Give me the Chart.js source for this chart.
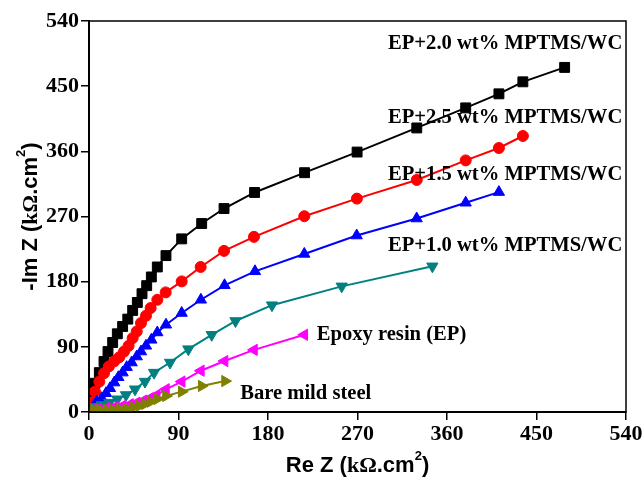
<!DOCTYPE html>
<html>
<head>
<meta charset="utf-8">
<script src="https://cdn.jsdelivr.net/npm/chart.js@4.4.1/dist/chart.umd.min.js"></script>
<style>
  html, body { margin: 0; padding: 0; background: #fff; }
  #wrap { width: 644px; height: 480px; }
</style>
</head>
<body>
<div id="wrap"><canvas id="chart" width="644" height="480"></canvas></div>
<script>
// Re Z / -Im Z in kOhm.cm2
const ep20Re = [2.7, 6, 10.4, 15.1, 19.1, 23.8, 28.5, 33.8, 39, 43.9, 48.6, 53.3, 58, 62.7, 68.7, 77.4, 93.2, 113.3, 135.8, 166.5, 216.8, 269.6, 329.6, 378.8, 412.2, 436.3, 478.3];
const ep20Im = [28.1, 39.7, 54.4, 69.7, 83.5, 96, 108, 118.1, 128.3, 140.3, 151.3, 163.4, 174.5, 186.5, 200.3, 216, 239.1, 260.3, 281, 303.2, 330.5, 359, 392.3, 420, 439.4, 456, 475.9];

const ep25Re = [2.7, 6, 10.4, 15.1, 20, 25.4, 30.5, 35.2, 39.8, 43.9, 48, 52.3, 57.3, 62, 68.7, 77.1, 93.2, 112.3, 135.8, 165.9, 216.5, 269.4, 329.6, 378.8, 412.2, 436.3];
const ep25Im = [12.9, 28.1, 42, 53.6, 63, 70, 75.7, 83.5, 91.4, 102, 111.2, 122.8, 132.9, 143.6, 155, 165.2, 180.4, 200.3, 222.5, 241.9, 270.4, 294.7, 320.5, 347.5, 364.6, 381.2];

const ep15Re = [4.3, 7.7, 12.8, 17.1, 21.1, 25.4, 29.5, 33.8, 37.9, 42.9, 48, 52.3, 57.3, 62.7, 68.7, 77.4, 93.2, 112.5, 136.3, 166.9, 216.5, 269.2, 329.5, 378.8, 412.2];
const ep15Im = [7.3, 14.3, 19, 25.9, 32.8, 40.6, 48, 54.4, 61.9, 68.3, 76.6, 83.5, 91.4, 99.7, 109.8, 120.5, 136.7, 155, 175, 194.3, 218.3, 243.7, 267.2, 289, 303.7];

const ep10Re = [6, 12.8, 20.4, 28.5, 37.2, 46.3, 56.3, 65.4, 81.5, 99.9, 123.4, 147.3, 184, 254.1, 345.3];
const ep10Im = [7.3, 9.7, 12.9, 17.6, 23.5, 31.4, 42, 54.4, 68.3, 86.8, 106.6, 125.7, 147.5, 173.5, 201.2];

const epRe = [4.3, 9.4, 17.8, 26.1, 33.8, 41.2, 48, 54.6, 61.3, 68.1, 77.4, 93.2, 112.5, 136.3, 165.9, 216.5];
const epIm = [3.7, 4.6, 6, 7.3, 8.7, 10.7, 12.9, 15.7, 19, 23.5, 31.4, 42, 57, 70.4, 85.8, 106.6];

const bareRe = [5, 11.1, 17.8, 24.4, 31.2, 37.9, 44.6, 50.6, 56.3, 62, 68.7, 77.4, 93.2, 113.3, 136.8];
const bareIm = [2.8, 2.8, 2.8, 2.8, 3.7, 4.6, 6.5, 8.3, 11.1, 14.3, 18, 22.2, 28.1, 36, 42.7];

const seriesNames = ['EP+2.0 wt% MPTMS/WC', 'EP+2.5 wt% MPTMS/WC', 'EP+1.5 wt% MPTMS/WC', 'EP+1.0 wt% MPTMS/WC', 'Epoxy resin (EP)', 'Bare mild steel'];
// where each series name sits, in data units (left edge, middle)
const labelRe = [300.7, 300.7, 300.7, 300.7, 229, 152];
const labelIm = [508, 407, 328, 230, 106.6, 25];

const axisTicks = [0, 90, 180, 270, 360, 450, 540];

const toPoints = (xs, ys) => xs.map((x, i) => ({ x, y: ys[i] }));

const serif = '"Liberation Serif", "Times New Roman", serif';
const sans = '"Liberation Sans", Arial, sans-serif';

const chartFrame = {
  id: 'chartFrame',
  afterDraw(chart) {
    const { ctx, chartArea: { left, top, width, height } } = chart;
    ctx.save();
    ctx.strokeStyle = '#000';
    ctx.lineWidth = 1.5;
    ctx.strokeRect(left, top, width, height);
    ctx.restore();
  },
};

// draws a run of [text, font, raise] pieces starting at x
function drawPieces(ctx, pieces, x, y) {
  let cx = x;
  pieces.forEach(([t, f, dy]) => {
    ctx.font = f;
    ctx.fillText(t, cx, y - (dy || 0));
    cx += ctx.measureText(t).width;
  });
  return cx - x;
}

function piecesWidth(ctx, pieces) {
  let w = 0;
  pieces.forEach(([t, f]) => { ctx.font = f; w += ctx.measureText(t).width; });
  return w;
}

const axisTitles = {
  id: 'axisTitles',
  afterDraw(chart) {
    const { ctx, chartArea: { left, right, top, bottom } } = chart;
    const big = 'bold 22px ' + sans;
    const sym = 'bold 22px ' + serif;
    const sup = 'bold 13px ' + sans;
    const unit = [[' (', big], ['kΩ', sym], ['.cm', big], ['2', sup, 10], [')', big]];
    ctx.save();
    ctx.fillStyle = '#000';
    ctx.textBaseline = 'middle';
    ctx.textAlign = 'left';

    const xt = [['Re Z', big]].concat(unit);
    const xw = piecesWidth(ctx, xt);
    drawPieces(ctx, xt, (left + right) / 2 - xw / 2, 466);

    const yt = [['-Im Z', big]].concat(unit);
    const yw = piecesWidth(ctx, yt);
    ctx.translate(31, (top + bottom) / 2);
    ctx.rotate(-Math.PI / 2);
    drawPieces(ctx, yt, -yw / 2, 0);
    ctx.restore();
  },
};

const seriesLabels = {
  id: 'seriesLabels',
  afterDatasetsDraw(chart) {
    const { ctx, scales: { x, y } } = chart;
    ctx.save();
    ctx.fillStyle = '#000';
    ctx.font = 'bold 20.6px ' + serif;
    ctx.textAlign = 'left';
    ctx.textBaseline = 'middle';
    seriesNames.forEach((name, i) => {
      ctx.fillText(name, x.getPixelForValue(labelRe[i]), y.getPixelForValue(labelIm[i]));
    });
    ctx.restore();
  },
};

function series(xs, ys, color, style, radius, rotation, order) {
  return {
    data: toPoints(xs, ys),
    borderColor: color,
    backgroundColor: color,
    borderWidth: 2,
    showLine: true,
    pointStyle: style,
    pointRadius: radius,
    pointRotation: rotation,
    pointBackgroundColor: color,
    pointBorderColor: color,
    pointBorderWidth: 1,
    order,
  };
}

new Chart(document.getElementById('chart'), {
  type: 'scatter',
  data: {
    datasets: [
      series(bareRe, bareIm, '#808000', 'triangle', 6.5, 90, 0),
      series(epRe, epIm, '#ff00ff', 'triangle', 6.5, 270, 1),
      series(ep10Re, ep10Im, '#008080', 'triangle', 6.5, 180, 2),
      series(ep15Re, ep15Im, '#0000ff', 'triangle', 6.5, 0, 3),
      series(ep25Re, ep25Im, '#ff0000', 'circle', 5.5, 0, 4),
      series(ep20Re, ep20Im, '#000000', 'rect', 7, 0, 5),
    ],
  },
  options: {
    responsive: false,
    animation: false,
    events: [],
    layout: { padding: { left: 0, top: 21, right: 18, bottom: 0 } },
    scales: {
      x: {
        type: 'linear',
        min: 0,
        max: 540,
        afterBuildTicks: (s) => { s.ticks = axisTicks.map((v) => ({ value: v })); },
        afterFit: (s) => { s.height = 68; },
        grid: { drawOnChartArea: false, drawTicks: true, tickLength: 8, color: '#000', lineWidth: 1.5 },
        border: { display: true, color: '#000', width: 2 },
        ticks: { color: '#000', padding: 1, maxRotation: 0, font: { family: serif, size: 22, weight: 'bold' } },
      },
      y: {
        type: 'linear',
        min: 0,
        max: 540,
        afterBuildTicks: (s) => { s.ticks = axisTicks.map((v) => ({ value: v })); },
        afterFit: (s) => { s.width = 89; },
        grid: { drawOnChartArea: false, drawTicks: true, tickLength: 8, color: '#000', lineWidth: 1.5 },
        border: { display: true, color: '#000', width: 2 },
        ticks: { color: '#000', padding: 2, font: { family: serif, size: 22, weight: 'bold' } },
      },
    },
    plugins: {
      legend: { display: false },
      tooltip: { enabled: false },
    },
  },
  plugins: [chartFrame, seriesLabels, axisTitles],
});
</script>
</body>
</html>
